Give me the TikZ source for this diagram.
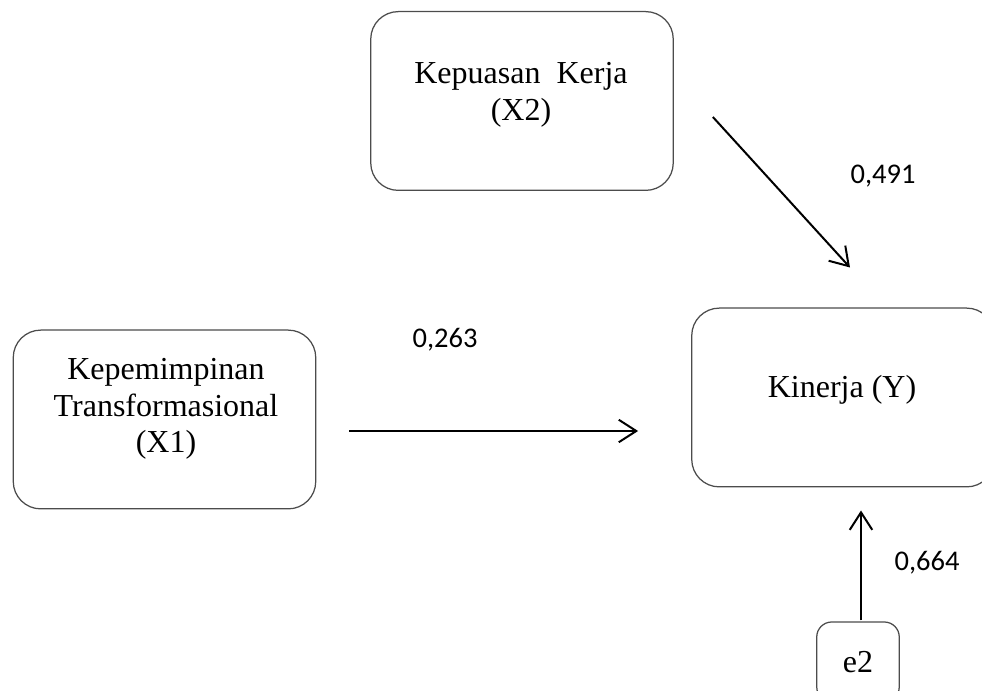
\documentclass[tikz,border=0pt]{standalone}
\usepackage{fontspec}
\setmainfont{Liberation Serif}
\newfontfamily\coeffont{Carlito}
\usetikzlibrary{arrows.meta,positioning,calc}

\begin{document}
\begin{tikzpicture}[
  x=0.4pt,y=-0.4pt,
  every node/.style={font=\fontsize{12.8}{14.7}\selectfont,align=center,inner sep=0pt},
  varbox/.style={draw=black!70,line width=0.5pt,rounded corners=11pt,minimum width=121pt,minimum height=71.5pt},
  errbox/.style={draw=black!70,line width=0.5pt,rounded corners=6pt,minimum width=33pt,minimum height=32pt},
  coef/.style={font=\coeffont\fontsize{11.4}{13}\selectfont},
  arrow/.style={-{Straight Barb[length=7pt,width=9pt]},line width=0.8pt}
]
\useasboundingbox (0,0) rectangle (982,691);
\clip (0,0) rectangle (982,691);

% kotak variabel
\node[varbox] (x2) at (522,101) {};
\node (x2txt) at (521,95) {Kepuasan\ \ Kerja\\(X2)};
\node[varbox] (x1) at (164.5,419.5) {};
\node (x1txt) at (166,409) {Kepemimpinan\\Transformasional\\(X1)};
\node[varbox] (y) at (843,397.5) {};
\node (ytxt) at (842,390) {Kinerja (Y)};
\node[errbox] (e2) at (858,662) {e2};

% jalur
\draw[arrow] ([shift={(39,16)}]x2.east) -- ([shift={(7,-40)}]y.north);
\draw[arrow] ([shift={(33,11.5)}]x1.east) -- ([shift={(-53,33.5)}]y.west);
\draw[arrow] ([shift={(3,-1)}]e2.north) -- ([shift={(18,23)}]y.south);

% koefisien
\node[coef] (c2) at (883,176) {0,491};
\node[coef] (c1) at (445,340) {0,263};
\node[coef] (c3) at (927,563) {0,664};
\end{tikzpicture}
\end{document}
